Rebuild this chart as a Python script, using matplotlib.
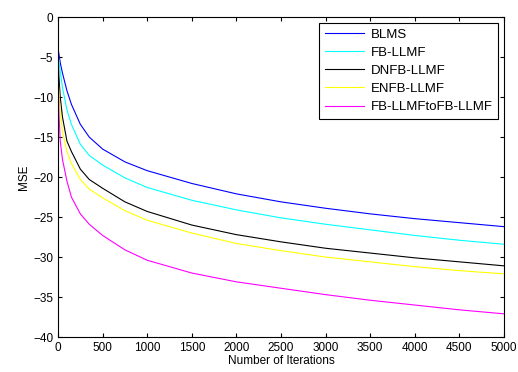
import matplotlib
matplotlib.use("Agg")
import matplotlib.pyplot as plt

plt.rcParams['font.family'] = ['Liberation Sans', 'DejaVu Sans']

# iteration points
iterations = [0, 10, 25, 50, 100, 150, 250, 350, 500, 750, 1000, 1500, 2000, 2500, 3000, 3500, 4000, 4500, 5000]

blms = [-3.9, -4.6, -5.7, -7.0, -9.2, -10.9, -13.4, -15.0, -16.5, -18.1, -19.2, -20.8, -22.1, -23.1, -23.9, -24.6, -25.2, -25.7, -26.2]
fb_llmf = [-4.7, -5.5, -6.8, -8.8, -11.6, -13.4, -15.9, -17.3, -18.5, -20.1, -21.3, -22.9, -24.1, -25.1, -25.9, -26.6, -27.3, -27.9, -28.4]
dnfb_llmf = [-5.0, -7.5, -10.0, -12.5, -15.5, -16.8, -19.0, -20.3, -21.4, -23.1, -24.3, -26.0, -27.2, -28.1, -28.9, -29.5, -30.1, -30.6, -31.1]
enfb_llmf = [-7.0, -9.5, -12.0, -14.3, -16.8, -18.3, -20.3, -21.5, -22.6, -24.2, -25.4, -27.0, -28.3, -29.2, -30.0, -30.6, -31.2, -31.7, -32.1]
fb_to_fb = [-7.0, -12.0, -15.5, -17.8, -20.5, -22.5, -24.6, -25.9, -27.3, -29.1, -30.4, -32.0, -33.1, -33.9, -34.7, -35.4, -36.0, -36.6, -37.1]

labels = ["BLMS", "FB-LLMF", "DNFB-LLMF", "ENFB-LLMF", "FB-LLMFtoFB-LLMF"]
colors = ["#0000ff", "#00ffff", "#000000", "#ffff00", "#ff00ff"]

fig = plt.figure(figsize=(5.18, 3.72), dpi=100)
ax = fig.add_axes([0.112, 0.094, 0.861, 0.860])

for ys, lab, col in zip([blms, fb_llmf, dnfb_llmf, enfb_llmf, fb_to_fb], labels, colors):
    ax.plot(iterations, ys, color=col, linewidth=0.8, label=lab)

ax.set_xlim(0, 5000)
ax.set_ylim(-40, 0)
ax.set_xticks(range(0, 5001, 500))
ax.set_yticks(range(-40, 1, 5))
ax.tick_params(direction='in', labelsize=8.5, length=3, top=True, right=True)
ax.set_xlabel("Number of Iterations", fontsize=8.5, labelpad=1)
ax.set_ylabel("MSE", fontsize=8.5, labelpad=2)

leg = ax.legend(loc="upper right", fontsize=9.5, fancybox=False, framealpha=1,
                edgecolor="black", handlelength=3.0, handletextpad=0.5,
                labelspacing=0.45, borderaxespad=0.45)
leg.get_frame().set_linewidth(0.8)

fig.savefig("out.png", dpi=100)
